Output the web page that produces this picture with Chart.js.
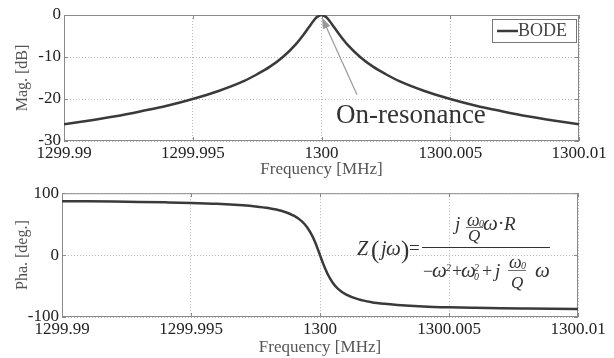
<!DOCTYPE html>
<html>
<head>
<meta charset="utf-8">
<script src="https://cdn.jsdelivr.net/npm/chart.js@4.4.0/dist/chart.umd.min.js"></script>
<style>
  body { margin: 0; background: #fff; }
  #magBox { position: absolute; left: 0; top: 0; }
  #phaBox { position: absolute; left: 0; top: 180px; }
</style>
</head>
<body>
<div id="magBox"><canvas id="magChart" width="614" height="180"></canvas></div>
<div id="phaBox"><canvas id="phaChart" width="614" height="178"></canvas></div>
<script>
// frequency sweep around the resonance [MHz]
const freqMHz = [
  1299.99, 1299.991, 1299.992, 1299.993, 1299.994, 1299.995, 1299.996, 1299.997,
  1299.9975, 1299.998, 1299.9985, 1299.999, 1299.9993, 1299.9995, 1299.9997, 1299.9998, 1299.9999,
  1300,
  1300.0001, 1300.0002, 1300.0003, 1300.0005, 1300.0007, 1300.001, 1300.0015, 1300.002,
  1300.0025, 1300.003, 1300.004, 1300.005, 1300.006, 1300.007, 1300.008, 1300.009, 1300.01
]
// magnitude [dB]
const magDb = [
  -26.0, -25.1, -24.1, -22.9, -21.6, -20.0, -18.1, -15.7,
  -14.1, -12.3, -10.0, -7.0, -4.7, -3.0, -1.3, -0.6, -0.2,
  0,
  -0.2, -0.6, -1.3, -3.0, -4.7, -7.0, -10.0, -12.3,
  -14.1, -15.7, -18.1, -20.0, -21.6, -22.9, -24.1, -25.1, -26.0
]
// phase [deg.]
const phaseDeg = [
  87.1, 86.8, 86.4, 85.9, 85.2, 84.3, 82.9, 80.5,
  78.7, 76.0, 71.6, 63.4, 54.5, 45.0, 31.0, 21.8, 11.3,
  0,
  -11.3, -21.8, -31.0, -45.0, -54.5, -63.4, -71.6, -76.0,
  -78.7, -80.5, -82.9, -84.3, -85.2, -85.9, -86.4, -86.8, -87.1
]
const freqTickValues = [1299.99, 1299.995, 1300, 1300.005, 1300.01]
const freqTickLabels = ['1299.99', '1299.995', '1300', '1300.005', '1300.01']

const SERIF = '"Liberation Serif", "DejaVu Serif", serif'
const LINE = '#3a3a3a'

// matlab-like axes box with inward tick marks
const boxPlugin = {
  id: 'box',
  beforeDatasetsDraw(chart) {
    const { ctx, chartArea: a, scales } = chart
    ctx.save()
    ctx.strokeStyle = '#8a8a8a'
    ctx.lineWidth = 1
    ctx.strokeRect(a.left + 0.5, a.top + 0.5, a.right - a.left - 1, a.bottom - a.top - 1)
    ctx.beginPath()
    scales.x.ticks.forEach(t => {
      const px = Math.round(scales.x.getPixelForValue(t.value)) + 0.5
      ctx.moveTo(px, a.bottom); ctx.lineTo(px, a.bottom - 4)
      ctx.moveTo(px, a.top); ctx.lineTo(px, a.top + 4)
    })
    scales.y.ticks.forEach(t => {
      const py = Math.round(scales.y.getPixelForValue(t.value)) + 0.5
      ctx.moveTo(a.left, py); ctx.lineTo(a.left + 4, py)
      ctx.moveTo(a.right, py); ctx.lineTo(a.right - 4, py)
    })
    ctx.stroke()
    ctx.restore()
  }
}

// legend box in the upper right corner
const legendBox = {
  id: 'legendBox',
  afterDatasetsDraw(chart) {
    const { ctx, chartArea: a } = chart
    const w = 84, h = 23
    const x0 = a.right - w - 3, y0 = a.top + 4
    ctx.save()
    ctx.fillStyle = '#fff'
    ctx.fillRect(x0, y0, w, h)
    ctx.strokeStyle = '#777'
    ctx.lineWidth = 1
    ctx.strokeRect(x0 + 0.5, y0 + 0.5, w, h)
    ctx.strokeStyle = LINE
    ctx.lineWidth = 2.5
    ctx.beginPath()
    ctx.moveTo(x0 + 5, y0 + h / 2 + 0.5)
    ctx.lineTo(x0 + 26, y0 + h / 2 + 0.5)
    ctx.stroke()
    ctx.fillStyle = '#444'
    ctx.font = '18px ' + SERIF
    ctx.textBaseline = 'middle'
    ctx.fillText(chart.data.datasets[0].label, x0 + 26, y0 + h / 2 + 1)
    ctx.restore()
  }
}

// "On-resonance" label with an arrow to the peak
const resonanceNote = {
  id: 'resonanceNote',
  afterDatasetsDraw(chart, args, opts) {
    const { ctx, scales: { x, y } } = chart
    const tx = x.getPixelForValue(opts.tail[0]), ty = y.getPixelForValue(opts.tail[1])
    const hx = x.getPixelForValue(opts.head[0]), hy = y.getPixelForValue(opts.head[1])
    const ang = Math.atan2(hy - ty, hx - tx)
    ctx.save()
    ctx.strokeStyle = '#999'
    ctx.fillStyle = '#999'
    ctx.lineWidth = 1.2
    ctx.beginPath()
    ctx.moveTo(tx, ty)
    ctx.lineTo(hx - 9 * Math.cos(ang), hy - 9 * Math.sin(ang))
    ctx.stroke()
    ctx.beginPath()
    ctx.moveTo(hx, hy)
    ctx.lineTo(hx - 11 * Math.cos(ang) + 4 * Math.sin(ang), hy - 11 * Math.sin(ang) - 4 * Math.cos(ang))
    ctx.lineTo(hx - 11 * Math.cos(ang) - 4 * Math.sin(ang), hy - 11 * Math.sin(ang) + 4 * Math.cos(ang))
    ctx.closePath()
    ctx.fill()
    ctx.fillStyle = '#333'
    ctx.font = '27px ' + SERIF
    ctx.textBaseline = 'alphabetic'
    ctx.fillText(opts.text, x.getPixelForValue(opts.at[0]), y.getPixelForValue(opts.at[1]))
    ctx.restore()
  }
}

// impedance formula drawn next to the phase curve
const formulaNote = {
  id: 'formulaNote',
  afterDatasetsDraw(chart, args, opts) {
    const { ctx, scales: { x, y } } = chart
    const bx = Math.round(x.getPixelForValue(opts.at[0]))
    const by = Math.round(y.getPixelForValue(opts.at[1]))
    const it = s => 'italic ' + s + 'px ' + SERIF
    const rm = s => s + 'px ' + SERIF
    const put = (s, dx, dy, f) => { ctx.font = f; ctx.fillText(s, bx + dx, by + dy) }
    const bar = (x0, x1, dy, w) => {
      ctx.lineWidth = w
      ctx.beginPath(); ctx.moveTo(bx + x0, by + dy); ctx.lineTo(bx + x1, by + dy); ctx.stroke()
    }
    ctx.save()
    ctx.fillStyle = '#333'
    ctx.strokeStyle = '#333'
    ctx.textBaseline = 'alphabetic'
    ctx.textAlign = 'left'
    // left hand side
    put('Z', -65, 8, it(20))
    put('(', -51, 11, rm(25))
    put('j', -41, 8, it(20))
    put('\u03c9', -36, 8, it(21))
    put(')', -21, 11, rm(25))
    put('=', -13, 7, rm(19))
    bar(0, 128, 0.5, 1)
    // numerator
    put('j', 33, -17, it(19))
    put('\u03c9', 45, -21, it(18))
    put('0', 57, -20, it(10))
    bar(44, 61, -19.5, 0.7)
    put('Q', 46, -6, it(17))
    put('\u03c9', 61, -17, it(21))
    put('\u00b7', 76, -18, rm(19))
    put('R', 82, -17, it(19))
    // denominator
    put('\u2212', 1, 30, rm(18))
    put('\u03c9', 10, 30, it(21))
    put('2', 24, 24, it(10))
    put('+', 30, 30, rm(18))
    put('\u03c9', 39, 30, it(21))
    put('0', 52, 33, it(10))
    put('2', 52, 24, it(10))
    put('+', 60, 30, rm(18))
    put('j', 73, 30, it(19))
    put('\u03c9', 87, 21, it(18))
    put('0', 99, 22, it(10))
    bar(86, 104, 23.5, 0.7)
    put('Q', 89, 41, it(17))
    put('\u03c9', 113, 30, it(21))
    ctx.restore()
  }
}

const freqAxis = (height) => ({
  type: 'linear',
  min: 1299.99,
  max: 1300.01,
  afterBuildTicks: scale => { scale.ticks = freqTickValues.map(v => ({ value: v })) },
  afterFit: scale => { scale.height = height },
  ticks: {
    callback: (v, i) => freqTickLabels[i],
    font: { family: SERIF, size: 17 },
    color: '#222',
    padding: 2,
    maxRotation: 0,
    autoSkip: false
  },
  grid: { color: '#b8b8b8', lineWidth: 1, drawTicks: false },
  border: { display: false, dash: [1, 2] },
  title: {
    display: true,
    text: 'Frequency [MHz]',
    font: { family: SERIF, size: 17 },
    color: '#555',
    padding: 0
  }
})

const valueAxis = (width, min, max, step, label) => ({
  min: min,
  max: max,
  afterFit: scale => { scale.width = width },
  ticks: {
    stepSize: step,
    font: { family: SERIF, size: 17 },
    color: '#222',
    padding: 3
  },
  grid: { color: '#b8b8b8', lineWidth: 1, drawTicks: false },
  border: { display: false, dash: [1, 2] },
  title: {
    display: true,
    text: label,
    font: { family: SERIF, size: 16 },
    color: '#555',
    padding: { top: 13 }
  }
})

const lineSet = (label, values) => ({
  label: label,
  data: freqMHz.map((f, i) => ({ x: f, y: values[i] })),
  borderColor: LINE,
  borderWidth: 2.5,
  pointRadius: 0,
  cubicInterpolationMode: 'monotone',
  fill: false
})

const magChart = new Chart(document.getElementById('magChart'), {
  type: 'line',
  data: { datasets: [lineSet('BODE', magDb)] },
  options: {
    responsive: false,
    animation: false,
    layout: { padding: { top: 15, right: 35, left: 0, bottom: 0 } },
    scales: {
      x: freqAxis(39),
      y: valueAxis(64, -30, 0, 10, 'Mag. [dB]')
    },
    plugins: {
      legend: { display: false },
      tooltip: { enabled: false },
      resonanceNote: {
        text: 'On-resonance',
        at: [1300.00056, -25.7],
        tail: [1300.00138, -19.0],
        head: [1300.00002, -0.6]
      }
    }
  },
  plugins: [boxPlugin, legendBox, resonanceNote]
})

const phaChart = new Chart(document.getElementById('phaChart'), {
  type: 'line',
  data: { datasets: [lineSet('BODE', phaseDeg)] },
  options: {
    responsive: false,
    animation: false,
    layout: { padding: { top: 12, right: 36, left: 0, bottom: 0 } },
    scales: {
      x: freqAxis(41),
      y: valueAxis(62, -100, 100, 100, 'Pha. [deg.]')
    },
    plugins: {
      legend: { display: false },
      tooltip: { enabled: false },
      formulaNote: { at: [1300.00395, 12.8] }
    }
  },
  plugins: [boxPlugin, formulaNote]
})
</script>
</body>
</html>
